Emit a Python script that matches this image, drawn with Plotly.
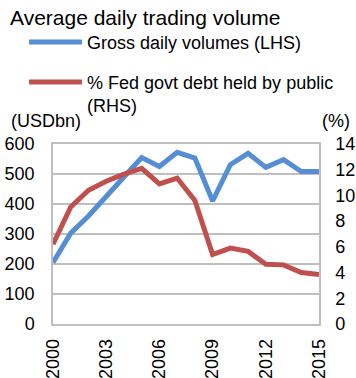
import plotly.graph_objects as go

# Average daily trading volume vs. share of federal debt held by the public
years = list(range(2000, 2016))
gross_daily_volumes = [205, 303, 360, 422, 490, 555, 525, 572, 553, 410,
                       531, 569, 522, 548, 508, 508]          # USDbn (LHS)
fed_debt_held_pct = [6.2, 9.1, 10.4, 11.1, 11.65, 12.1, 10.9, 11.35, 9.6, 5.4,
                     5.9, 5.65, 4.65, 4.6, 4.0, 3.85]         # % (RHS)
x_ticks = [2000, 2003, 2006, 2009, 2012, 2015]
left_ticks = [0, 100, 200, 300, 400, 500, 600]
right_ticks = [0, 2, 4, 6, 8, 10, 12, 14]

title_text = "Average daily trading volume"
legend_labels = ["Gross daily volumes (LHS)",
                 "% Fed govt debt held by public<br>(RHS)"]
left_unit = "(USDbn)"
right_unit = "(%)"

BLUE = "#558ED5"
RED = "#C0504D"
GRID = "#BFBFBF"
FONT = "Arial, Liberation Sans, sans-serif"

W, H = 356, 378
ML, MR, MT, MB = 53, 36.5, 144, 54
PW, PH = W - ML - MR, H - MT - MB


def px(x):
    return (x - ML) / PW


def py(y):
    return (H - MB - y) / PH


fig = go.Figure()
fig.add_trace(go.Scatter(x=years, y=gross_daily_volumes, mode="lines",
                         line=dict(color=BLUE, width=5), yaxis="y",
                         showlegend=False, hoverinfo="skip"))
fig.add_trace(go.Scatter(x=years, y=fed_debt_held_pct, mode="lines",
                         line=dict(color=RED, width=5), yaxis="y2",
                         showlegend=False, hoverinfo="skip"))

shapes = []
annotations = []
# header and hand-drawn legend
annotations.append(dict(text=title_text, x=px(8), y=py(17), xref="paper", yref="paper",
                        xanchor="left", yanchor="middle", showarrow=False,
                        font=dict(size=21, color="#000000", family=FONT)))
for i, (lab, col, ly) in enumerate(zip(legend_labels, [BLUE, RED], [42, 82])):
    shapes.append(dict(type="line", xref="paper", yref="paper",
                       x0=px(29), x1=px(82), y0=py(ly), y1=py(ly),
                       line=dict(color=col, width=5)))
    annotations.append(dict(text=lab, x=px(85), y=py(ly - 11.5), xref="paper", yref="paper",
                            xanchor="left", yanchor="top", align="left", showarrow=False,
                            font=dict(size=18, color="#000000", family=FONT)))
annotations.append(dict(text=left_unit, x=px(9), y=py(121), xref="paper", yref="paper",
                        xanchor="left", yanchor="middle", showarrow=False,
                        font=dict(size=18, color="#000000", family=FONT)))
annotations.append(dict(text=right_unit, x=px(353), y=py(121), xref="paper", yref="paper",
                        xanchor="right", yanchor="middle", showarrow=False,
                        font=dict(size=18, color="#000000", family=FONT)))

fig.update_layout(
    width=W, height=H,
    margin=dict(l=ML, r=MR, t=MT, b=MB, pad=0, autoexpand=False),
    paper_bgcolor="white", plot_bgcolor="white",
    font=dict(family=FONT, size=18, color="#000000"),
    shapes=shapes, annotations=annotations,
    xaxis=dict(range=[2000, 2015], tickvals=x_ticks, ticktext=[str(v) for v in x_ticks],
               tickangle=-90, showgrid=False, zeroline=False, automargin=False,
               showline=True, linecolor=GRID, linewidth=1.5, mirror=True,
               ticks="", ticklabelstandoff=6, tickfont=dict(size=18)),
    yaxis=dict(range=[0, 600], tickvals=left_ticks, showgrid=True, gridcolor=GRID,
               gridwidth=1.5, zeroline=False, showline=True, linecolor=GRID, linewidth=1.5,
               automargin=False, ticks="", ticklabelstandoff=13, tickfont=dict(size=18)),
    yaxis2=dict(range=[0, 14], tickvals=right_ticks, overlaying="y", side="right",
                showgrid=False, zeroline=False, showline=True, linecolor=GRID, linewidth=1.5,
                automargin=False, ticks="", ticklabelstandoff=11, tickfont=dict(size=18)),
)

fig.write_html("out.html", config={"displayModeBar": False})
